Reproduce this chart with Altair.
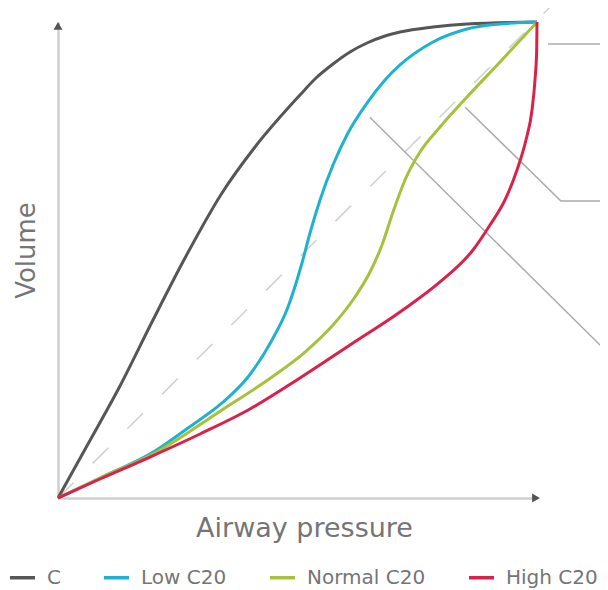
import altair as alt
import pandas as pd

FONT = "DejaVu Sans ExtraLight, DejaVu Sans"
TXT = "#757575"

series = ["C", "Low C20", "Normal C20", "High C20"]
colors = ["#565656", "#1fb2d0", "#a6c23c", "#d9214a"]

c_pressure = [0, 6.26, 12.94, 19.62, 26.51, 34.24, 41.13, 50.52, 53.86, 57.41, 60.96, 64.51,
              68.27, 71.40, 78.29, 85.39, 100]
c_volume = [0, 11.34, 23.53, 36.97, 50.42, 64.08, 73.74, 84.66, 88.24, 91.18, 93.70, 95.59,
            97.06, 97.90, 98.95, 99.58, 100]

low_pressure = [0, 8.77, 20.25, 27.14, 34.24, 39.67, 44.68, 48.02, 50.94, 52.61, 54.70, 57.41,
                60.54, 64.51, 68.27, 71.40, 78.29, 85.39, 92.28, 100]
low_volume = [0, 4.20, 9.87, 14.71, 19.96, 25.42, 33.19, 40.13, 49.37, 55.67, 62.61, 69.96,
              76.68, 82.98, 87.82, 90.97, 95.80, 98.53, 99.58, 100]

normal_pressure = [0, 8.77, 20.25, 34.24, 44.68, 51.57, 57.41, 62.00, 65.14, 67.64, 69.94, 72.44,
                   75.57, 79.75, 85.39, 92.28, 100]
normal_volume = [0, 4.20, 9.45, 18.49, 25.42, 30.67, 36.34, 42.23, 47.48, 53.15, 60.08, 66.81,
                 72.69, 77.94, 84.24, 91.60, 100]

high_pressure = [0, 8.77, 19.21, 29.65, 40.08, 50.52, 60.96, 71.40, 79.75, 86.64, 90.19, 93.32,
                 95.82, 97.70, 98.96, 99.58, 99.94, 100]
high_volume = [0, 3.99, 8.61, 13.45, 18.70, 25.21, 32.14, 39.08, 45.38, 52.10, 57.35, 62.61,
               68.91, 75.21, 81.51, 87.82, 94.12, 100]

diag_pressure = [0, 103]
diag_volume = [0, 103.4]

pointer_id = [1, 1, 2, 2, 2, 3, 3]
pointer_pressure = [102.3, 114.8, 85.0, 105.0, 114.8, 65.1, 114.8]
pointer_volume = [95.4, 95.4, 82.1, 62.4, 62.4, 80.0, 30.5]

rows = []
for name, ps, vs in [
    ("C", c_pressure, c_volume),
    ("Low C20", low_pressure, low_volume),
    ("Normal C20", normal_pressure, normal_volume),
    ("High C20", high_pressure, high_volume),
]:
    for i, (p, v) in enumerate(zip(ps, vs)):
        rows.append({"series": name, "i": i, "p": p, "v": v})
curves_df = pd.DataFrame(rows)

diag_df = pd.DataFrame({"p": diag_pressure, "v": diag_volume})
pointer_df = pd.DataFrame({"id": pointer_id, "i": list(range(len(pointer_id))),
                           "p": pointer_pressure, "v": pointer_volume})
xarrow_df = pd.DataFrame({"p": [99.8], "v": [0]})
yarrow_df = pd.DataFrame({"p": [0], "v": [99.2]})

xs = alt.Scale(domain=[0, 100], nice=False, zero=False)
ys = alt.Scale(domain=[0, 100], nice=False, zero=False)

x_axis = alt.Axis(title="Airway pressure", labels=False, ticks=False, grid=False,
                  domainColor="#cfcfcf", domainWidth=2.5,
                  titleFont=FONT, titleFontSize=27, titleFontWeight="normal",
                  titleColor=TXT, titleX=246, titleY=38, titleBaseline="alphabetic",
                  titleAlign="center")
y_axis = alt.Axis(title="Volume", labels=False, ticks=False, grid=False,
                  domainColor="#cfcfcf", domainWidth=2.5,
                  titleFont=FONT, titleFontSize=26, titleFontWeight="normal",
                  titleColor=TXT, titleX=-24, titleY=228, titleBaseline="alphabetic",
                  titleAlign="center", titleAngle=270)

X = alt.X("p:Q", scale=xs, axis=x_axis)
Y = alt.Y("v:Q", scale=ys, axis=y_axis)

diag = alt.Chart(diag_df).mark_line(color="#d0d0d0", strokeWidth=1.5,
                                    strokeDash=[22, 27]).encode(x=X, y=Y)

pointers = alt.Chart(pointer_df).mark_line(color="#ababab", strokeWidth=1.5).encode(
    x=X, y=Y, detail="id:N", order="i:Q")

curves = alt.Chart(curves_df).mark_line(strokeWidth=3, interpolate="monotone").encode(
    x=X, y=Y,
    color=alt.Color("series:N", scale=alt.Scale(domain=series, range=colors),
                    legend=alt.Legend(title=None, orient="none", legendX=-50, legendY=541,
                                      direction="horizontal", symbolType="stroke",
                                      symbolSize=625, symbolStrokeWidth=3.5,
                                      labelFont=FONT, labelFontSize=20, labelColor=TXT,
                                      labelOffset=10, columnPadding=36)),
    order="i:Q")

xarrow = alt.Chart(xarrow_df).mark_point(shape="triangle-right", filled=True, size=81,
                                         color="#555555", opacity=1).encode(x=X, y=Y)
yarrow = alt.Chart(yarrow_df).mark_point(shape="triangle-up", filled=True, size=81,
                                         color="#555555", opacity=1).encode(x=X, y=Y)

chart = alt.layer(diag, pointers, curves, xarrow, yarrow).properties(
    width=479, height=476,
    autosize=alt.AutoSizeParams(type="none"),
    padding={"left": 50, "top": 14, "right": 63, "bottom": 92},
    background="white",
).configure_view(stroke=None)

chart.save("out.html", embed_options={"renderer": "svg", "actions": False})
